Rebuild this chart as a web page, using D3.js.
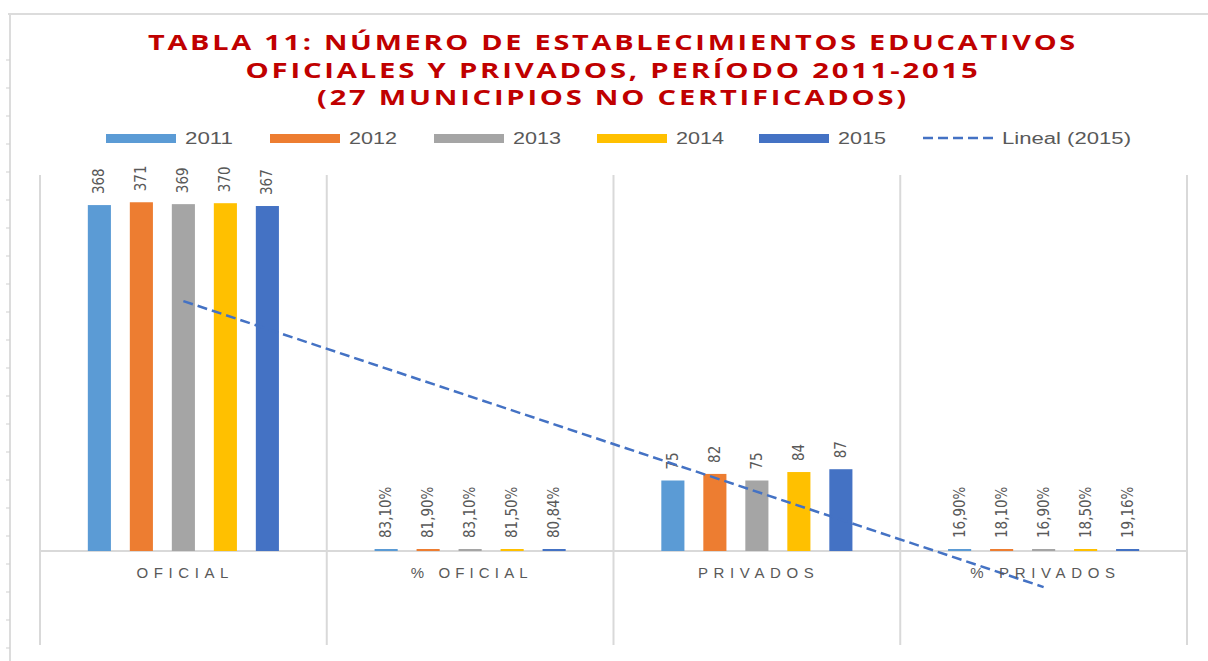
<!DOCTYPE html>
<html>
<head>
<meta charset="utf-8">
<script src="https://cdn.jsdelivr.net/npm/d3@7"></script>
<style>
  body { margin: 0; background: #fff; }
  svg { display: block; }
</style>
</head>
<body>
<div id="chart"></div>
<script>
// data
var categories = ["OFICIAL", "% OFICIAL", "PRIVADOS", "% PRIVADOS"];
var years = ["2011", "2012", "2013", "2014", "2015"];
var s2011 = [368, 0.831, 75, 0.169];
var s2012 = [371, 0.819, 82, 0.181];
var s2013 = [369, 0.831, 75, 0.169];
var s2014 = [370, 0.815, 84, 0.185];
var s2015 = [367, 0.8084, 87, 0.1916];
var isPercent = [false, true, false, true];
var yDomain = [-100, 400];

var series = [s2011, s2012, s2013, s2014, s2015];
var colors = ["#5B9BD5", "#ED7D31", "#A5A5A5", "#FFC000", "#4472C4"];

var W = 1208, H = 661;
var svg = d3.select("#chart").append("svg").attr("width", W).attr("height", H);

// sheet border bits behind the chart
svg.append("line").attr("x1", 8).attr("x2", W).attr("y1", 14).attr("y2", 14)
  .style("stroke", "#dcdcdc").style("stroke-width", 2);
svg.append("line").attr("x1", 10).attr("x2", 10).attr("y1", 14).attr("y2", H)
  .style("stroke", "#dcdcdc").style("stroke-width", 2);
for (var ty = 60; ty < H; ty += 28) {
  svg.append("line").attr("x1", 6).attr("x2", 10).attr("y1", ty).attr("y2", ty)
    .style("stroke", "#cfcfcf").style("stroke-width", 1);
}

// title
var titleLines = [
  {t: "TABLA 11: NÚMERO DE ESTABLECIMIENTOS EDUCATIVOS", y: 50, w: 930},
  {t: "OFICIALES Y PRIVADOS, PERÍODO 2011-2015", y: 78, w: 735},
  {t: "(27 MUNICIPIOS NO CERTIFICADOS)", y: 105, w: 592}
];
titleLines.forEach(function (l) {
  svg.append("text")
    .attr("x", 613).attr("y", l.y)
    .attr("text-anchor", "middle")
    .attr("textLength", l.w).attr("lengthAdjust", "spacingAndGlyphs")
    .style("font-family", "'Open Sans', 'Liberation Sans', sans-serif")
    .style("font-weight", "bold")
    .style("font-size", "21px")
    .style("letter-spacing", "2px")
    .style("fill", "#C00000")
    .text(l.t);
});

// scales
var plotL = 40, plotR = 1187, plotT = 175, plotB = 645;
var x0 = d3.scaleBand().domain(categories).range([plotL, plotR]);
var bw = x0.bandwidth();
var x1 = d3.scaleBand().domain(years)
  .range([bw / 2 - 105, bw / 2 + 105])
  .paddingInner(0.45).paddingOuter(0.225);
var y = d3.scaleLinear().domain(yDomain).range([plotB, plotT]);

// vertical gridlines between categories
var bounds = categories.map(function (c) { return x0(c); }).concat([plotR]);
svg.selectAll(".vgrid").data(bounds).enter().append("line")
  .attr("class", "vgrid")
  .attr("x1", function (d) { return d; }).attr("x2", function (d) { return d; })
  .attr("y1", plotT).attr("y2", plotB)
  .style("stroke", "#d9d9d9").style("stroke-width", 2);

// zero line
svg.append("line").attr("x1", plotL).attr("x2", plotR)
  .attr("y1", y(0)).attr("y2", y(0))
  .style("stroke", "#d9d9d9").style("stroke-width", 2);

// bars
function fmt(v, i) {
  if (isPercent[i]) return (v * 100).toFixed(2).replace(".", ",") + "%";
  return String(v);
}

series.forEach(function (s, si) {
  var g = svg.append("g");
  g.selectAll("rect").data(s).enter().append("rect")
    .attr("x", function (d, i) { return x0(categories[i]) + x1(years[si]); })
    .attr("width", x1.bandwidth())
    .attr("y", function (d) { return Math.min(y(d), y(0) - 2); })
    .attr("height", function (d) { return Math.max(y(0) - y(d), 2); })
    .style("fill", colors[si]);

  g.selectAll("text").data(s).enter().append("text")
    .attr("transform", function (d, i) {
      var cx = x0(categories[i]) + x1(years[si]) + x1.bandwidth() / 2 + 5;
      return "translate(" + cx + "," + (Math.min(y(d), y(0) - 2) - 11) + ") rotate(-90)";
    })
    .style("font-family", "'Liberation Sans Narrow', 'DejaVu Sans Condensed', sans-serif")
    .style("font-size", "15px")
    .style("fill", "#595959")
    .text(function (d, i) { return fmt(d, i); });
});

// linear trend of 2015
var xs = s2015.map(function (d, i) { return i + 1; });
var mx = d3.mean(xs), my = d3.mean(s2015);
var slope = d3.sum(xs, function (xv, i) { return (xv - mx) * (s2015[i] - my); }) /
            d3.sum(xs, function (xv) { return (xv - mx) * (xv - mx); });
var icpt = my - slope * mx;
var trend = xs.map(function (xv, i) {
  return [x0(categories[i]) + bw / 2, y(icpt + slope * xv)];
});
svg.append("path")
  .attr("d", d3.line()([trend[0], trend[trend.length - 1]]))
  .style("fill", "none")
  .style("stroke", "#4472C4")
  .style("stroke-width", 2.5)
  .style("stroke-dasharray", "10,5");

// category labels
var catW = [92, 117, 116, 145];
svg.selectAll(".cat").data(categories).enter().append("text")
  .attr("class", "cat")
  .attr("x", function (d) { return x0(d) + bw / 2 - 1; })
  .attr("y", 578)
  .attr("text-anchor", "middle")
  .attr("textLength", function (d, i) { return catW[i]; })
  .attr("lengthAdjust", "spacing")
  .style("font-family", "'Liberation Sans', sans-serif")
  .style("font-size", "15px")
  .style("fill", "#595959")
  .text(function (d) { return d; });

// legend
var legX = [106, 270, 434, 597, 759];
years.forEach(function (yr, i) {
  svg.append("rect").attr("x", legX[i]).attr("y", 134)
    .attr("width", 70).attr("height", 9).style("fill", colors[i]);
  svg.append("text").attr("x", legX[i] + 79).attr("y", 144)
    .attr("textLength", 48).attr("lengthAdjust", "spacingAndGlyphs")
    .style("font-family", "'Liberation Sans', sans-serif")
    .style("font-size", "16px")
    .style("fill", "#595959")
    .text(yr);
});
svg.append("line").attr("x1", 923).attr("x2", 994).attr("y1", 138).attr("y2", 138)
  .style("stroke", "#4472C4").style("stroke-width", 2.5).style("stroke-dasharray", "10,5");
svg.append("text").attr("x", 1002).attr("y", 144)
  .attr("textLength", 129).attr("lengthAdjust", "spacingAndGlyphs")
  .style("font-family", "'Liberation Sans', sans-serif")
  .style("font-size", "16px")
  .style("fill", "#595959")
  .text("Lineal (2015)");
</script>
</body>
</html>
